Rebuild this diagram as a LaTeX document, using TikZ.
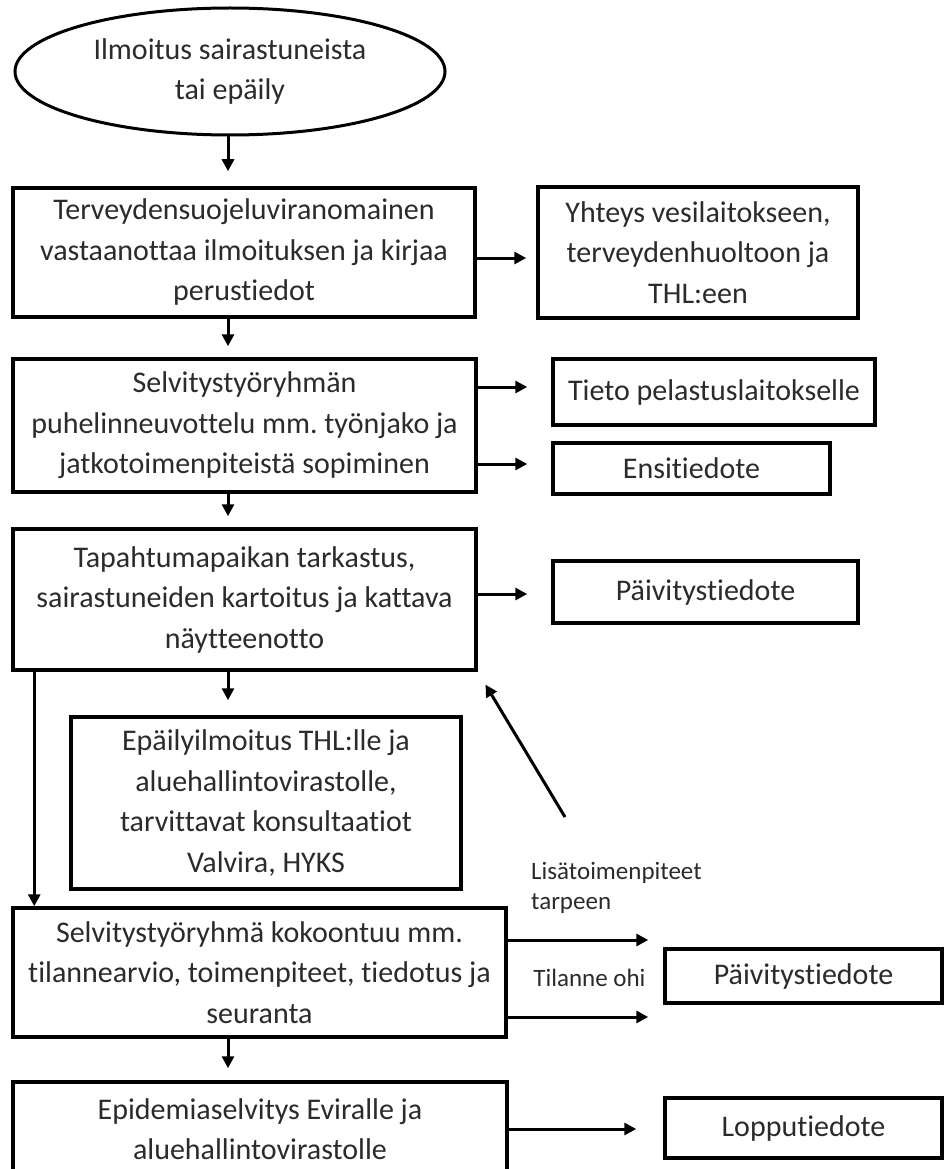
\documentclass[tikz,border=0pt]{standalone}
\usepackage{fontspec}
\setmainfont{Carlito}[Ligatures=NoCommon]
\frenchspacing
\usetikzlibrary{arrows.meta,shapes.geometric}
\definecolor{txt}{HTML}{2B2B2B}
\begin{document}
\begin{tikzpicture}[x=1pt,y=-1pt,
  box/.style={draw=black,line width=3.5pt,rectangle,inner sep=0pt,align=center,text=txt,font=\fontsize{30}{40.5}\selectfont},
  lbl/.style={text=txt,font=\fontsize{25}{30}\selectfont,inner sep=0pt},
  arr/.style={draw=black,line width=3pt,-{Triangle[length=12pt,width=12pt]}}]
\clip (0,0) rectangle (944,1169);
\fill[white] (0,0) rectangle (944,1169);

% nodes
\node[box,ellipse,line width=3pt,minimum width=430pt,minimum height=127pt] (ell) at (230,71.5) {Ilmoitus sairastuneista\\tai epäily};
\node[box,minimum width=462pt,minimum height=129pt] (b1) at (244,252.5) {Terveydensuojeluviranomainen\\vastaanottaa ilmoituksen ja kirjaa\\perustiedot};
\node[box,minimum width=320pt,minimum height=131pt] (yht) at (698,252.5) {Yhteys vesilaitokseen,\\terveydenhuoltoon ja\\THL:een};
\node[box,minimum width=463pt,minimum height=133pt] (b2) at (244.5,425.5) {Selvitystyöryhmän\\puhelinneuvottelu mm. työnjako ja\\jatkotoimenpiteistä sopiminen};
\node[box,minimum width=322pt,minimum height=66pt] (tieto) at (714,392) {Tieto pelastuslaitokselle};
\node[box,minimum width=277pt,minimum height=51pt] (ensi) at (691.5,468.5) {Ensitiedote};
\node[box,minimum width=463pt,minimum height=141pt] (b3) at (244.5,599.5) {Tapahtumapaikan tarkastus,\\sairastuneiden kartoitus ja kattava\\näytteenotto};
\node[box,minimum width=305pt,minimum height=62pt] (paiv1) at (705.5,592) {Päivitystiedote};
\node[box,minimum width=390pt,minimum height=172pt] (b4) at (266,803) {Epäilyilmoitus THL:lle ja\\aluehallintovirastolle,\\tarvittavat konsultaatiot\\Valvira, HYKS};
\node[box,minimum width=493pt,minimum height=129pt] (b5) at (259.5,972.5) {Selvitystyöryhmä kokoontuu mm.\\tilannearvio, toimenpiteet, tiedotus ja\\seuranta};
\node[box,minimum width=277pt,minimum height=54pt] (paiv2) at (803.5,976) {Päivitystiedote};
\node[box,minimum width=494pt,minimum height=94pt] (b6) at (260,1129) {Epidemiaselvitys Eviralle ja\\aluehallintovirastolle};
\node[box,minimum width=277pt,minimum height=60pt] (lopp) at (803.5,1128) {Lopputiedote};

\node[lbl,anchor=west,align=left] (lisa) at (531,888) {Lisätoimenpiteet\\tarpeen};
\node[lbl] (ohi) at (589.5,978) {Tilanne ohi};

% helper coordinates
\coordinate (col) at (228,0);
\coordinate (t1) at ([yshift=5pt]tieto.west);
\coordinate (e1) at ([yshift=4.5pt]ensi.west);
\coordinate (p1) at ([yshift=-2pt]paiv1.west);
\coordinate (y1) at ([yshift=-5.5pt]yht.west);
\coordinate (ua) at ([yshift=32.5pt]b5.east);
\coordinate (la) at ([yshift=-44.5pt]b5.east);
\coordinate (dtail) at (565,817);

% vertical main flow
\draw[arr,shorten >=15pt] (ell.south -| col) -- (b1.north -| col);
\draw[arr,shorten >=11pt] (b1.south -| col) -- (b2.north -| col);
\draw[arr,shorten >=11pt] (b2.south -| col) -- (b3.north -| col);
\draw[arr,shorten >=15pt] (b3.south -| col) -- (b4.north -| col);
\draw[arr,shorten >=12pt] (b5.south -| col) -- (b6.north -| col);
\draw[arr] ([xshift=23pt]b3.south west) -- ([xshift=23pt]b5.north west);

% side arrows
\draw[arr,shorten >=10pt] (b1.east |- y1) -- (y1);
\draw[arr,shorten >=24pt] (b2.east |- t1) -- (t1);
\draw[arr,shorten >=24pt] (b2.east |- e1) -- (e1);
\draw[arr,shorten >=24pt] (b3.east |- p1) -- (p1);
\draw[arr,shorten >=15pt] (ua) -- (ua -| paiv2.west);
\draw[arr,shorten >=15pt] (la) -- (la -| paiv2.west);
\draw[arr,shorten >=27pt] (b6.east) -- (b6.east -| lopp.west);
\draw[arr,shorten >=15pt] (dtail) -- (b3.south east);
\end{tikzpicture}
\end{document}
